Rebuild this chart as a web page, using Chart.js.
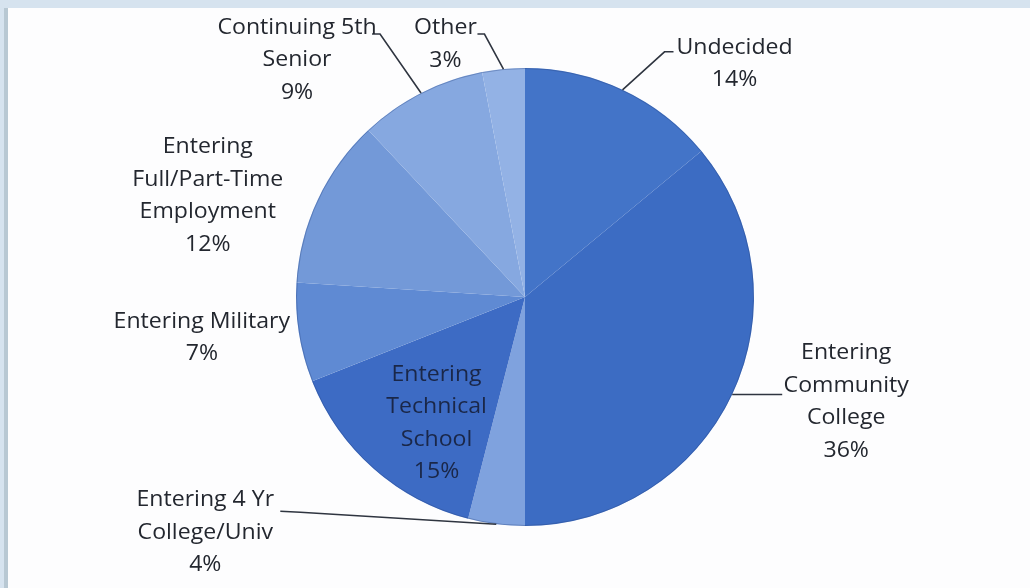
<!DOCTYPE html>
<html>
<head>
<meta charset="utf-8">
<script src="https://cdn.jsdelivr.net/npm/chart.js@4.4.0/dist/chart.umd.min.js"></script>
<style>
  html, body { margin: 0; padding: 0; background: #fff; }
  #page { position: absolute; left: 0; top: 0; width: 1030px; height: 588px; background: #fdfdfe; overflow: hidden; }
  #bandTop { position: absolute; left: 0; top: 0; width: 1030px; height: 8px; background: #d6e3ef; }
  #bandLeft { position: absolute; left: 0; top: 0; width: 4px; height: 588px; background: #d6e3ef; }
  #rule { position: absolute; left: 4px; top: 8px; width: 4px; height: 580px; background: #b8c8d3; }
  #myChart { position: absolute; left: 0; top: 0; }
</style>
</head>
<body>
<div id="page">
  <div id="bandTop"></div>
  <div id="bandLeft"></div>
  <div id="rule"></div>
  <canvas id="myChart" width="1030" height="588"></canvas>
</div>
<script>
const categories = [
  'Undecided',
  'Entering Community College',
  'Entering 4 Yr College/Univ',
  'Entering Technical School',
  'Entering Military',
  'Entering Full/Part-Time Employment',
  'Continuing 5th Senior',
  'Other',
];
const percentages = [14, 36, 4, 15, 7, 12, 9, 3];
const labelLines = [
  ['Undecided'],
  ['Entering', 'Community', 'College'],
  ['Entering 4 Yr', 'College/Univ'],
  ['Entering', 'Technical', 'School'],
  ['Entering Military'],
  ['Entering', 'Full/Part-Time', 'Employment'],
  ['Continuing 5th', 'Senior'],
  ['Other'],
];

const sliceColors = ['#4374c8', '#3c6cc3', '#7fa2de', '#3d6bc4', '#5f8ad3', '#7399d8', '#86a8e0', '#93b2e5'];

// label placement relative to the outer mid point of each slice
// text: offset of first line centre, leader: extra points from the edge
const labelPlacement = [
  { dx: 112, dy: -42, leader: [[42, -38], [51, -38]] },
  { dx: 114, dy: -41, leader: [[50, 0]] },
  { dx: -291, dy: -24, leader: [[-196, -12], [-216, -13]] },
  { dx: 63, dy: -94, leader: null },
  { dx: -97, dy: -11, leader: null },
  { dx: -110, dy: -52, leader: null },
  { dx: -124, dy: -65, leader: [[-41, -59], [-49, -59]] },
  { dx: -58, dy: -41, leader: [[-19, -35], [-26, -35]] },
];

const lineHeight = 32.5;
const textStretch = 1.1;

const outsideLabels = {
  id: 'outsideLabels',
  afterDraw(chart) {
    const ctx = chart.ctx;
    const arcs = chart.getDatasetMeta(0).data;
    ctx.save();

    // faint rim like the original
    const p0 = arcs[0].getProps(['x', 'y', 'outerRadius'], true);
    ctx.beginPath();
    ctx.arc(p0.x, p0.y, p0.outerRadius - 0.5, 0, Math.PI * 2);
    ctx.strokeStyle = 'rgba(40, 70, 130, 0.35)';
    ctx.lineWidth = 1;
    ctx.stroke();

    arcs.forEach((arc, i) => {
      const p = arc.getProps(['x', 'y', 'startAngle', 'endAngle', 'outerRadius'], true);
      const mid = (p.startAngle + p.endAngle) / 2;
      const ex = p.x + Math.cos(mid) * p.outerRadius;
      const ey = p.y + Math.sin(mid) * p.outerRadius;
      const place = labelPlacement[i];

      if (place.leader) {
        ctx.beginPath();
        ctx.moveTo(ex, ey);
        place.leader.forEach(pt => ctx.lineTo(ex + pt[0], ey + pt[1]));
        ctx.strokeStyle = '#2f3540';
        ctx.lineWidth = 1.6;
        ctx.stroke();
      }

      const lines = labelLines[i].concat([percentages[i] + '%']);
      ctx.font = '500 21px "Open Sans"';
      ctx.fillStyle = i === 3 ? '#1a2748' : '#23272f';
      ctx.textAlign = 'center';
      ctx.textBaseline = 'middle';
      lines.forEach((txt, j) => {
        ctx.save();
        ctx.translate(ex + place.dx, ey + place.dy + j * lineHeight);
        ctx.scale(textStretch, 1);
        ctx.fillText(txt, 0, 0);
        ctx.restore();
      });
    });
    ctx.restore();
  },
};

new Chart('myChart', {
  type: 'pie',
  data: {
    labels: categories,
    datasets: [
      {
        data: percentages,
        backgroundColor: sliceColors,
        borderWidth: 0,
      },
    ],
  },
  options: {
    responsive: false,
    animation: false,
    layout: {
      padding: { top: 68, bottom: 62, left: 296, right: 276 },
    },
    plugins: {
      legend: { display: false },
      tooltip: { enabled: false },
    },
  },
  plugins: [outsideLabels],
});
</script>
</body>
</html>
